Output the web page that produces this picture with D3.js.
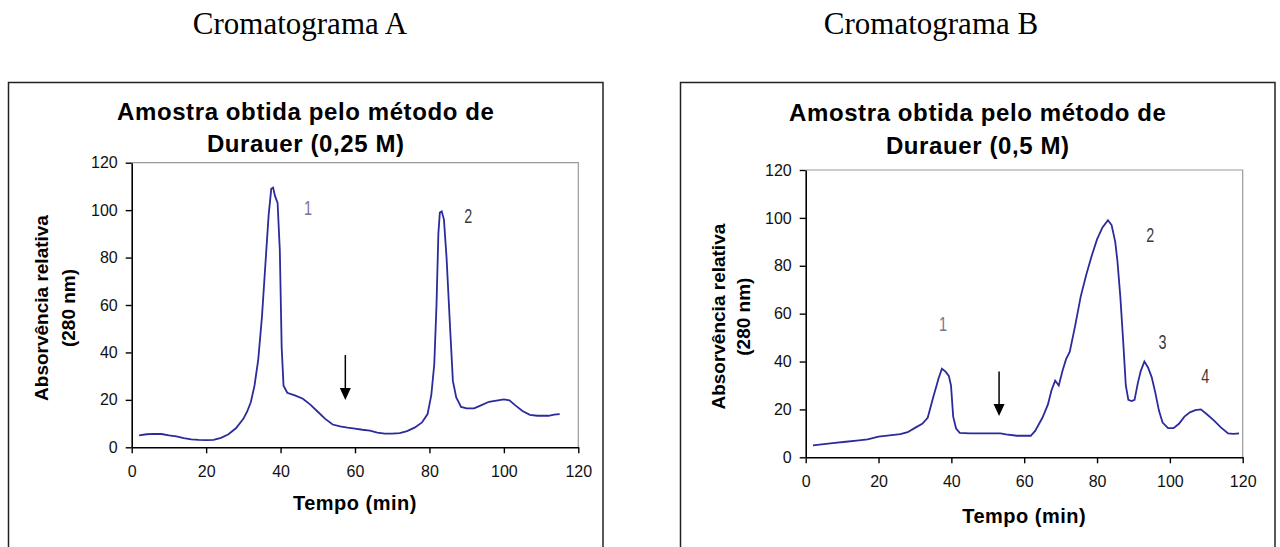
<!DOCTYPE html>
<html>
<head>
<meta charset="utf-8">
<script src="https://cdn.jsdelivr.net/npm/d3@7"></script>
<style>
  body { margin: 0; background: #fff; }
  svg { display: block; }
</style>
</head>
<body>
<svg id="chart" width="1280" height="547"></svg>
<script>
// values (time in min, relative absorbance)
var timeA = [2, 4, 6, 8, 10, 12, 14, 16, 18, 20, 22, 24, 26, 28, 30, 31, 32, 33, 34, 35, 36, 36.8, 37.5, 38, 38.5, 39.2, 39.8, 40.3, 40.8, 41.8, 44, 46, 48, 50, 52, 54, 56, 58, 60, 62, 64, 66, 68, 70, 72, 74, 76, 78, 79.5, 80.5, 81.3, 81.9, 82.4, 82.8, 83.3, 83.9, 84.6, 85.5, 86.3, 87.2, 88.5, 90, 92, 94, 96, 98, 100, 101.5, 103, 105, 107, 109, 112, 113.5, 115];
var absA  = [5, 5.5, 5.7, 5.6, 5.0, 4.6, 3.9, 3.3, 3.1, 3.0, 3.1, 4.0, 5.5, 8, 12, 15, 19, 26, 37, 55, 79, 98, 109, 109.5, 106, 103, 83, 42, 26, 23, 21.8, 20.5, 18, 15, 12, 9.6, 8.8, 8.3, 7.9, 7.4, 7, 6.2, 5.8, 5.8, 6, 6.8, 8.3, 10.5, 14, 22, 35, 60, 90, 99, 99.5, 96, 80, 52, 28, 21, 17, 16.4, 16.4, 17.8, 19.2, 19.7, 20.2, 19.8, 17.8, 15.3, 13.7, 13.3, 13.3, 13.8, 14];

var timeB = [2, 5, 8, 11, 14, 17, 20, 23, 26, 28, 30, 32, 33.5, 35, 36.5, 37.4, 38.4, 39.3, 39.9, 40.5, 41.3, 42.3, 45, 50, 53.5, 55, 58, 61.8, 63, 65, 66.5, 67.5, 68.5, 69.5, 70.5, 71.5, 72.5, 74, 75.5, 77, 78.5, 80, 81.5, 83, 84, 85, 85.6, 86.4, 87.2, 87.9, 88.6, 89.5, 90.3, 91.2, 92, 93, 94, 95, 96, 97, 98, 99.5, 101, 102.5, 104, 105.5, 107, 108.5, 110, 112, 114, 116, 117.5, 119];
var absB  = [5, 5.5, 6, 6.5, 7, 7.5, 8.6, 9.2, 9.7, 10.5, 12.3, 14, 16.5, 25, 33, 37, 35.8, 34, 30, 17, 12, 10.2, 10, 10, 10, 9.6, 9, 9, 11, 16.5, 22, 28, 32, 30, 36, 41, 44, 55, 67, 76, 84, 91, 96, 99, 97, 90, 82, 67, 48, 30, 24, 23.5, 24, 31, 36, 40, 37.5, 33.5, 27, 19.5, 14.5, 12.2, 12.2, 14, 17, 18.8, 19.7, 20, 18.2, 15.5, 12.5, 10, 9.8, 10];

var xTicks = [0, 20, 40, 60, 80, 100, 120];
var yTicks = [0, 20, 40, 60, 80, 100, 120];

// peak numbers [time, absorbance, text]
var peaksA = [[47.4, 98, "1"], [90.4, 94.5, "2"]];
var peaksB = [[37.7, 52.6, "1"], [94.6, 90, "2"], [98, 45.2, "3"], [109.7, 31.2, "4"]];

// arrow [time, top value, tip value]
var arrowA = [57.4, 38.9, 19.9];
var arrowB = [53.1, 35.8, 17.3];

var svg = d3.select("#chart");
var lineColor = "#2b2b9c";

function drawChart(o) {
    var g = svg.append("g");

    // frame around chart
    g.append("rect")
        .attr("x", o.box[0]).attr("y", o.box[1])
        .attr("width", o.box[2] - o.box[0]).attr("height", 600)
        .attr("fill", "none").attr("stroke", "#222").attr("stroke-width", 1.5);

    g.append("text")
        .attr("x", o.captionX).attr("y", 34)
        .attr("text-anchor", "middle")
        .style("font-family", "'Liberation Serif', 'Times New Roman', serif")
        .style("font-size", "31px")
        .text(o.caption);

    var x = d3.scaleLinear().domain([0, 120]).range([o.left, o.right]);
    var y = d3.scaleLinear().domain([0, 120]).range([o.bottom, o.top]);

    // plot area border (grey top/right)
    g.append("path")
        .attr("d", "M" + o.left + "," + o.top + "H" + o.right + "V" + o.bottom)
        .attr("fill", "none").attr("stroke", "#999").attr("stroke-width", 1.2);

    var xAxis = g.append("g")
        .attr("transform", "translate(0," + o.bottom + ")")
        .call(d3.axisBottom(x).tickValues(xTicks).tickSize(6).tickSizeOuter(0).tickPadding(12));
    var yAxis = g.append("g")
        .attr("transform", "translate(" + o.left + ",0)")
        .call(d3.axisLeft(y).tickValues(yTicks).tickSize(6).tickSizeOuter(0).tickPadding(8));

    [xAxis, yAxis].forEach(function(a) {
        a.select(".domain").attr("stroke", "#000").attr("stroke-width", 1.6);
        a.selectAll(".tick line").attr("stroke", "#000").attr("stroke-width", 1.4);
        a.selectAll("text")
            .style("font-family", "'Liberation Sans', Arial, sans-serif")
            .style("font-size", "16px")
            .attr("fill", "#111");
    });

    // titles
    var cx = (o.box[0] + o.box[2]) / 2;
    var title = g.append("text")
        .attr("text-anchor", "middle")
        .style("font-family", "'Liberation Sans', Arial, sans-serif")
        .style("font-size", "24px").style("font-weight", "bold")
        .style("letter-spacing", "0.6px");
    title.append("tspan").attr("x", cx).attr("y", o.titleY[0]).text("Amostra obtida pelo método de");
    title.append("tspan").attr("x", cx).attr("y", o.titleY[1]).text(o.title2);

    g.append("text")
        .attr("x", (o.left + o.right) / 2).attr("y", o.xLabelY)
        .attr("text-anchor", "middle")
        .style("font-family", "'Liberation Sans', Arial, sans-serif")
        .style("font-size", "20px").style("font-weight", "bold")
        .style("letter-spacing", "0.5px")
        .text("Tempo (min)");

    var midY = (o.top + o.bottom) / 2 + 3;
    [["Absorvência relativa", o.yLabelX[0]], ["(280 nm)", o.yLabelX[1]]].forEach(function(d) {
        g.append("text")
            .attr("transform", "translate(" + d[1] + "," + midY + ") rotate(-90)")
            .attr("text-anchor", "middle")
            .style("font-family", "'Liberation Sans', Arial, sans-serif")
            .style("font-size", "19px").style("font-weight", "bold")
            .text(d[0]);
    });

    // the trace
    var line = d3.line()
        .x(function(d) { return x(d[0]); })
        .y(function(d) { return y(d[1]); });
    g.append("path")
        .datum(d3.zip(o.times, o.values))
        .attr("d", line)
        .attr("fill", "none").attr("stroke", lineColor)
        .attr("stroke-width", 1.8);

    // peak numbers (narrow font)
    o.peaks.forEach(function(p) {
        g.append("text")
            .attr("transform", "translate(" + x(p[0]) + "," + y(p[1]) + ") scale(0.72,1)")
            .attr("text-anchor", "middle")
            .style("font-family", "'Liberation Sans Narrow', 'Liberation Sans', Arial, sans-serif")
            .style("font-size", "20px")
            .attr("fill", p[2] == "1" ? "#75739a" : "#3a3a3a")
            .text(p[2]);
    });

    // arrow
    var ax = x(o.arrow[0]), y0 = y(o.arrow[1]), y1 = y(o.arrow[2]);
    g.append("line")
        .attr("x1", ax).attr("x2", ax).attr("y1", y0).attr("y2", y1 - 8)
        .attr("stroke", "#000").attr("stroke-width", 1.5);
    g.append("path")
        .attr("d", "M" + (ax - 5.5) + "," + (y1 - 12) + "L" + (ax + 5.5) + "," + (y1 - 12) + "L" + ax + "," + y1 + "Z")
        .attr("fill", "#000");
}

drawChart({
    caption: "Cromatograma A", captionX: 300,
    box: [8.5, 82.5, 603],
    left: 131.7, right: 578.3, top: 162.7, bottom: 447.3,
    titleY: [120, 151.5], title2: "Durauer (0,25 M)",
    xLabelY: 510, yLabelX: [48, 75],
    times: timeA, values: absA, peaks: peaksA, arrow: arrowA
});

drawChart({
    caption: "Cromatograma B", captionX: 931,
    box: [680.5, 82.5, 1275],
    left: 805.7, right: 1242.7, top: 170, bottom: 457.3,
    titleY: [121, 153.5], title2: "Durauer (0,5 M)",
    xLabelY: 523, yLabelX: [725, 750],
    times: timeB, values: absB, peaks: peaksB, arrow: arrowB
});
</script>
</body>
</html>
